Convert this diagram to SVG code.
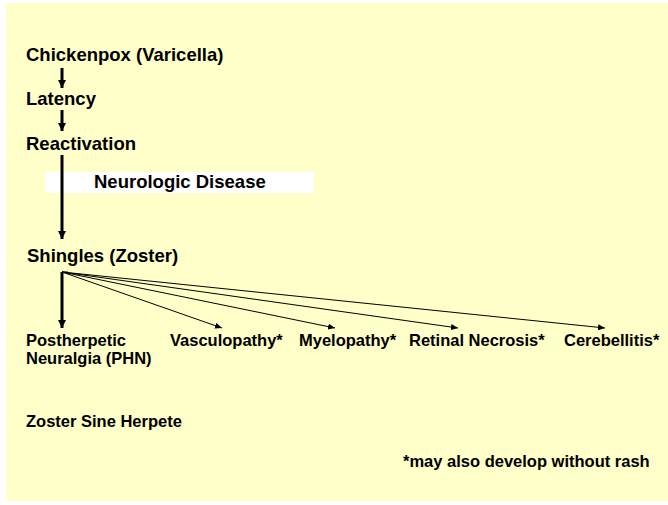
<svg xmlns="http://www.w3.org/2000/svg" width="668" height="505" viewBox="0 0 668 505">
<defs>
<style>
.t{font-family:"Liberation Sans",Arial,sans-serif;font-weight:bold;fill:#000}
.big{font-size:18.5px}
.sm{font-size:16.5px}
.thick{stroke:#000;stroke-width:3;fill:none}
.thin{stroke:#000;stroke-width:1;fill:none}
</style>
<marker id="ah" markerUnits="userSpaceOnUse" viewBox="0 0 8 8" refX="8" refY="4" markerWidth="8" markerHeight="8" orient="auto">
<path d="M0,0 L8,4 L0,8 Z" fill="#000"/>
</marker>
<marker id="ahs" markerUnits="userSpaceOnUse" viewBox="0 0 7 6" refX="7" refY="3" markerWidth="7" markerHeight="6" orient="auto">
<path d="M0,0 L7,3 L0,6 Z" fill="#000"/>
</marker>
</defs>
<rect x="6" y="3" width="662" height="498" fill="#FFFFC9"/>
<g id="nodes">
<g id="chickenpox"><text class="t big" x="26" y="61">Chickenpox (Varicella)</text></g>
<g id="latency"><text class="t big" x="26" y="105">Latency</text></g>
<g id="reactivation"><text class="t big" x="26" y="150">Reactivation</text></g>
<g id="neurologic"><rect x="45" y="172" width="269" height="21" fill="#FFFFFF"/><text class="t big" x="94" y="188">Neurologic Disease</text></g>
<g id="shingles"><text class="t big" x="27" y="262">Shingles (Zoster)</text></g>
<g id="phn"><text class="t sm" x="26" y="346">Postherpetic</text><text class="t sm" x="26" y="364">Neuralgia (PHN)</text></g>
<g id="vasculopathy"><text class="t sm" x="170" y="346">Vasculopathy*</text></g>
<g id="myelopathy"><text class="t sm" x="299" y="346">Myelopathy*</text></g>
<g id="retinal"><text class="t sm" x="409" y="346">Retinal Necrosis*</text></g>
<g id="cerebellitis"><text class="t sm" x="564" y="346">Cerebellitis*</text></g>
<g id="zsh"><text class="t sm" x="26" y="427">Zoster Sine Herpete</text></g>
<g id="note"><text class="t sm" x="403" y="467">*may also develop without rash</text></g>
</g>
<g id="connectors">
<line class="thick" x1="62" y1="68" x2="62" y2="88" marker-end="url(#ah)"/>
<line class="thick" x1="62" y1="110" x2="62" y2="131" marker-end="url(#ah)"/>
<line class="thick" x1="62" y1="155" x2="62" y2="239" marker-end="url(#ah)"/>
<line class="thick" x1="62" y1="272" x2="62" y2="328" marker-end="url(#ah)"/>
<line class="thin" x1="62" y1="272" x2="222" y2="328" marker-end="url(#ahs)"/>
<line class="thin" x1="62" y1="272" x2="335" y2="328" marker-end="url(#ahs)"/>
<line class="thin" x1="62" y1="272" x2="458" y2="328" marker-end="url(#ahs)"/>
<line class="thin" x1="62" y1="272" x2="605" y2="328" marker-end="url(#ahs)"/>
<line class="thin" x1="62" y1="272" x2="68" y2="272"/>
</g>
</svg>
